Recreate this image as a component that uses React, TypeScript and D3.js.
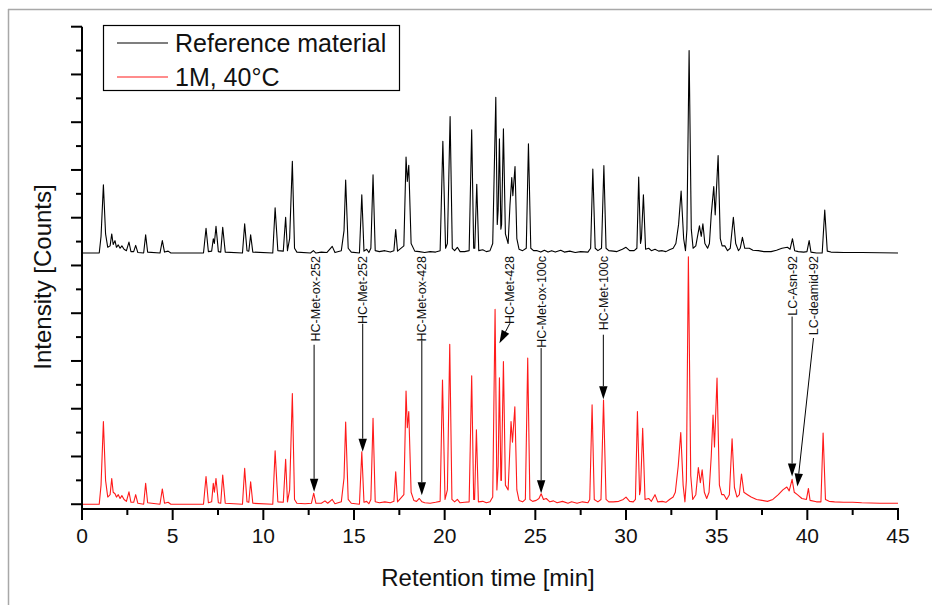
import React from "react";
import * as d3 from "d3";

// ---------- data ----------
const seriesNames = ["Reference material", "1M, 40°C"];
const seriesColors = ["#000000", "#ff1a1a"];

const xMajorTicks = [0, 5, 10, 15, 20, 25, 30, 35, 40, 45];
const xTickLabels = ["0", "5", "10", "15", "20", "25", "30", "35", "40", "45"];
const xMinorTicks = [2.5, 7.5, 12.5, 17.5, 22.5, 27.5, 32.5, 37.5, 42.5];
const yMajorTicks = [0, 1, 2, 3, 4, 5, 6, 7, 8, 9, 10];
const yMinorTicks = [0.5, 1.5, 2.5, 3.5, 4.5, 5.5, 6.5, 7.5, 8.5, 9.5];

// vertical offset of the reference trace (stacked display)
const referenceOffset = 5.26;

// [retention time (min), intensity (a.u.)]
const referenceTrace: [number, number][] = [
  [0, 0], [0.95, 0], [1.05, 0.35], [1.18, 1.43], [1.3, 0.4], [1.42, 0.12], [1.55, 0.15], [1.64, 0.4],
  [1.72, 0.18], [1.82, 0.26], [1.9, 0.12], [2.0, 0.17], [2.1, 0.1], [2.2, 0.15], [2.32, 0.08],
  [2.45, 0.05], [2.59, 0.23], [2.7, 0.03], [2.85, 0.03], [2.96, 0.16], [3.08, 0.01], [3.4, 0],
  [3.51, 0.38], [3.62, 0.02], [4.3, 0], [4.43, 0.26], [4.55, 0.02], [4.75, 0.04], [4.9, 0],
  [6.7, 0], [6.84, 0.52], [6.97, 0.03], [7.15, 0.04], [7.24, 0.3], [7.3, 0.2], [7.39, 0.56],
  [7.52, 0.03], [7.65, 0.02], [7.76, 0.54], [7.9, 0.02], [8.85, 0], [8.97, 0.61], [9.1, 0.05],
  [9.2, 0.04], [9.3, 0.38], [9.42, 0.02], [10.52, 0], [10.65, 0.95], [10.8, 0.05], [11.1, 0.04],
  [11.23, 0.75], [11.33, 0.05], [11.45, 0.3], [11.6, 1.92], [11.72, 0.1], [11.85, 0.02],
  [12.6, 0], [12.76, 0.05], [12.9, 0], [13.2, 0.02], [13.5, 0.01], [13.8, 0.14], [13.95, 0.01],
  [14.3, 0.05], [14.45, 0.47], [14.54, 1.53], [14.68, 0.1], [14.85, 0.02], [15.3, 0],
  [15.43, 1.22], [15.55, 0.04], [15.7, 0.08], [15.82, 0.01], [15.93, 0.1], [16.05, 1.64],
  [16.17, 0.05], [16.4, 0.03], [16.7, 0.05], [17.0, 0.02], [17.2, 0.05], [17.3, 0.49],
  [17.4, 0.04], [17.75, 0.15], [17.87, 2.01], [17.94, 1.5], [18.02, 1.84], [18.15, 0.2],
  [18.35, 0.04], [18.6, 0.03], [18.9, 0.01], [19.2, 0.03], [19.5, 0.02], [19.75, 0.05],
  [19.9, 2.34], [20.05, 0.1], [20.15, 0.2], [20.3, 2.86], [20.42, 0.1], [20.55, 0.05],
  [20.7, 0.12], [20.85, 0.03], [21.1, 0.03], [21.35, 0.05], [21.49, 2.58], [21.6, 0.1],
  [21.66, 0.1], [21.77, 1.44], [21.88, 0.05], [22.1, 0.07], [22.3, 0.03], [22.5, 0.05],
  [22.65, 0.2], [22.82, 3.26], [22.9, 0.6], [22.95, 0.9], [23.02, 2.39], [23.1, 0.5],
  [23.14, 0.6], [23.24, 2.6], [23.35, 0.4], [23.5, 0.2], [23.6, 1.0], [23.7, 1.58],
  [23.76, 1.2], [23.88, 1.81], [23.98, 0.3], [24.1, 0.08], [24.3, 0.05], [24.5, 0.1],
  [24.62, 2.29], [24.75, 0.1], [24.9, 0.05], [25.1, 0.05], [25.3, 0.02], [25.5, 0.06],
  [25.7, 0.02], [25.9, 0.05], [26.1, 0.02], [26.4, 0.06], [26.6, 0.02], [26.9, 0.04],
  [27.2, 0.01], [27.5, 0.03], [27.9, 0.02], [28.05, 0.1], [28.17, 1.76], [28.3, 0.1],
  [28.45, 0.05], [28.65, 0.1], [28.78, 1.83], [28.9, 0.1], [29.05, 0.05], [29.3, 0.04],
  [29.5, 0.03], [29.8, 0.08], [30.0, 0.12], [30.2, 0.05], [30.45, 0.05], [30.6, 0.1],
  [30.7, 1.59], [30.8, 0.2], [30.85, 0.3], [30.96, 1.22], [31.08, 0.08], [31.25, 0.1],
  [31.4, 0.05], [31.6, 0.08], [31.8, 0.04], [32.0, 0.05], [32.2, 0.03], [32.4, 0.07],
  [32.6, 0.1], [32.75, 0.2], [32.9, 0.6], [33.04, 1.3], [33.18, 0.3], [33.28, 0.05],
  [33.36, 0.5], [33.48, 4.24], [33.6, 0.5], [33.7, 0.1], [33.85, 0.15], [34.05, 0.57],
  [34.15, 0.35], [34.24, 0.61], [34.35, 0.2], [34.5, 0.1], [34.6, 0.2], [34.7, 0.8],
  [34.84, 1.39], [34.92, 0.8], [35.08, 2.04], [35.2, 0.3], [35.3, 0.15], [35.45, 0.15],
  [35.6, 0.05], [35.75, 0.1], [35.92, 0.75], [36.05, 0.2], [36.2, 0.05], [36.3, 0.1],
  [36.42, 0.33], [36.55, 0.1], [36.8, 0.1], [37.0, 0.06], [37.3, 0.05], [37.6, 0.03],
  [38.0, 0.03], [38.3, 0.06], [38.6, 0.1], [38.9, 0.12], [39.05, 0.08], [39.18, 0.3],
  [39.3, 0.05], [39.5, 0.03], [39.8, 0.02], [39.98, 0.03], [40.1, 0.26], [40.2, 0.02],
  [40.5, 0], [40.82, 0], [40.96, 0.9], [41.1, 0.04], [41.3, 0.02], [42, 0.01], [43, 0.01], [45, 0],
];

const stressedTrace: [number, number][] = [
  [0, 0], [0.95, 0], [1.05, 0.4], [1.18, 1.73], [1.3, 0.5], [1.42, 0.15], [1.55, 0.2], [1.64, 0.54],
  [1.72, 0.25], [1.82, 0.22], [1.9, 0.15], [2.0, 0.2], [2.1, 0.12], [2.2, 0.18], [2.32, 0.1],
  [2.45, 0.06], [2.59, 0.26], [2.7, 0.04], [2.85, 0.04], [2.96, 0.2], [3.08, 0.02], [3.4, 0],
  [3.51, 0.44], [3.62, 0.03], [4.3, 0], [4.43, 0.32], [4.55, 0.02], [4.75, 0.04], [4.9, 0],
  [6.7, 0], [6.84, 0.58], [6.97, 0.03], [7.15, 0.05], [7.24, 0.44], [7.3, 0.25], [7.39, 0.54],
  [7.52, 0.03], [7.65, 0.02], [7.76, 0.61], [7.9, 0.02], [8.85, 0], [8.97, 0.75], [9.1, 0.05],
  [9.2, 0.04], [9.3, 0.47], [9.42, 0.02], [10.52, 0], [10.65, 1.12], [10.8, 0.05], [11.1, 0.04],
  [11.23, 0.94], [11.33, 0.05], [11.45, 0.3], [11.6, 2.32], [11.72, 0.1], [11.85, 0.02],
  [12.3, 0.01], [12.65, 0.02], [12.78, 0.23], [12.9, 0.02], [13.2, 0.02], [13.4, 0.07],
  [13.55, 0.02], [13.8, 0.1], [13.95, 0.01], [14.3, 0.05], [14.45, 0.55], [14.54, 1.72],
  [14.68, 0.1], [14.85, 0.02], [15.3, 0], [15.43, 1.1], [15.55, 0.04], [15.7, 0.06],
  [15.82, 0.01], [15.93, 0.1], [16.05, 1.8], [16.17, 0.05], [16.4, 0.03], [16.7, 0.05],
  [17.0, 0.03], [17.2, 0.06], [17.3, 0.68], [17.4, 0.05], [17.75, 0.2], [17.87, 2.37],
  [17.94, 1.6], [18.02, 1.94], [18.15, 0.25], [18.3, 0.08], [18.45, 0.06], [18.6, 0.12],
  [18.75, 0.05], [18.9, 0.03], [19.2, 0.02], [19.5, 0.04], [19.75, 0.06], [19.88, 2.6],
  [20.02, 0.1], [20.15, 0.3], [20.28, 3.35], [20.4, 0.1], [20.55, 0.05], [20.7, 0.1],
  [20.85, 0.03], [21.1, 0.04], [21.35, 0.05], [21.49, 2.69], [21.6, 0.1], [21.65, 0.1],
  [21.75, 1.56], [21.86, 0.05], [22.1, 0.06], [22.3, 0.03], [22.5, 0.05], [22.65, 0.15],
  [22.78, 4.08], [22.88, 0.3], [22.95, 0.8], [23.02, 2.65], [23.1, 0.5], [23.13, 0.5],
  [23.24, 2.99], [23.35, 0.4], [23.5, 0.3], [23.6, 1.2], [23.66, 1.73], [23.74, 1.3],
  [23.87, 2.04], [23.98, 0.3], [24.1, 0.08], [24.3, 0.05], [24.45, 0.1], [24.58, 3.06],
  [24.7, 0.1], [24.85, 0.06], [25.05, 0.08], [25.2, 0.12], [25.32, 0.22], [25.45, 0.1],
  [25.6, 0.12], [25.8, 0.05], [26.0, 0.07], [26.2, 0.03], [26.5, 0.06], [26.8, 0.02],
  [27.0, 0.05], [27.3, 0.02], [27.6, 0.05], [27.9, 0.03], [28.0, 0.1], [28.13, 2.08],
  [28.25, 0.1], [28.45, 0.05], [28.62, 0.1], [28.76, 2.18], [28.9, 0.1], [29.05, 0.05],
  [29.3, 0.05], [29.6, 0.06], [29.85, 0.1], [30.0, 0.15], [30.2, 0.06], [30.4, 0.05],
  [30.52, 0.1], [30.63, 1.94], [30.75, 0.2], [30.8, 0.3], [30.92, 1.59], [31.05, 0.1],
  [31.25, 0.12], [31.4, 0.06], [31.6, 0.2], [31.75, 0.05], [32.0, 0.06], [32.2, 0.04],
  [32.4, 0.1], [32.6, 0.15], [32.72, 0.25], [32.88, 0.8], [33.02, 1.5], [33.15, 0.4],
  [33.25, 0.05], [33.33, 0.5], [33.44, 5.18], [33.57, 0.6], [33.68, 0.1], [33.85, 0.2],
  [33.99, 0.77], [34.1, 0.45], [34.2, 0.72], [34.32, 0.25], [34.45, 0.12], [34.58, 0.25],
  [34.7, 1.0], [34.8, 1.87], [34.88, 1.2], [35.02, 2.64], [35.15, 0.4], [35.28, 0.2],
  [35.4, 0.2], [35.55, 0.1], [35.7, 0.2], [35.85, 1.37], [35.98, 0.35], [36.12, 0.15],
  [36.25, 0.2], [36.37, 0.63], [36.5, 0.25], [36.7, 0.2], [36.9, 0.15], [37.2, 0.1],
  [37.5, 0.08], [37.8, 0.06], [38.1, 0.1], [38.4, 0.2], [38.65, 0.3], [38.87, 0.36],
  [39.0, 0.28], [39.16, 0.52], [39.28, 0.25], [39.45, 0.2], [39.7, 0.12], [39.95, 0.1],
  [40.06, 0.33], [40.15, 0.08], [40.5, 0.05], [40.75, 0.05], [40.87, 1.49], [41.0, 0.1],
  [41.2, 0.06], [41.5, 0.05], [42.0, 0.04], [42.5, 0.04], [43, 0.03], [44, 0.02], [45, 0.02],
];

// peak annotations: label position (time), arrow tail (time, value), arrow tip (time, value)
const annotationLabels = [
  "HC-Met-ox-252", "HC-Met-252", "HC-Met-ox-428", "HC-Met-428",
  "HC-Met-ox-100c", "HC-Met-100c", "LC-Asn-92", "LC-deamid-92",
];
const annotationLabelTimes = [12.85, 15.48, 18.74, 23.57, 25.32, 28.75, 39.2, 40.34];
const annotationTailTimes = [12.8, 15.48, 18.74, 23.6, 25.32, 28.75, 39.16, 40.34];
const annotationTailValues = [3.34, 3.78, 3.43, 3.79, 3.27, 3.55, 3.93, 3.48];
const annotationTipTimes = [12.8, 15.48, 18.74, 23.02, 25.32, 28.75, 39.16, 39.45];
const annotationTipValues = [0.26, 1.1, 0.19, 3.37, 0.23, 2.2, 0.58, 0.37];

const xTitle = "Retention time [min]";
const yTitle = "Intensity [Counts]";

// ---------- layout ----------
const W = 932;
const H = 605;
const FONT = "Arial, 'Liberation Sans', Helvetica, sans-serif";

const x = d3.scaleLinear().domain([0, 45]).range([82, 898]);
const y = d3.scaleLinear().domain([-0.1, 10]).range([509, 26.7]);

export default function App() {
  const line = d3
    .line<[number, number]>()
    .x((d) => x(d[0]))
    .y((d) => y(d[1]));

  const refPath = line(referenceTrace.map(([t, v]) => [t, v + referenceOffset] as [number, number])) || "";
  const stressedPath = line(stressedTrace) || "";

  const labelTop = 256;

  return (
    <div style={{ position: "absolute", left: 0, top: 0 }}>
      <svg width={W} height={H} viewBox={`0 0 ${W} ${H}`} style={{ display: "block", background: "#fff" }}>
        <rect x={0} y={0} width={W} height={H} fill="#fff" />
        {/* outer frame */}
        <line x1={8} y1={9.5} x2={W} y2={9.5} stroke="#a8a8a8" strokeWidth={1.5} />
        <line x1={8.5} y1={9} x2={8.5} y2={H} stroke="#a8a8a8" strokeWidth={1.5} />

        {/* traces */}
        <path d={stressedPath} fill="none" stroke={seriesColors[1]} strokeWidth={1.1} strokeLinejoin="round" />
        <path d={refPath} fill="none" stroke={seriesColors[0]} strokeWidth={1.1} strokeLinejoin="round" />

        {/* annotations */}
        {annotationLabels.map((lab, i) => {
          const lx = x(annotationLabelTimes[i]);
          const x0 = x(annotationTailTimes[i]);
          const y0 = y(annotationTailValues[i]);
          const x1 = x(annotationTipTimes[i]);
          const y1 = y(annotationTipValues[i]);
          const dx = x1 - x0;
          const dy = y1 - y0;
          const len = Math.hypot(dx, dy);
          const ux = dx / len;
          const uy = dy / len;
          const hl = 13;
          const hw = 4.2;
          const bx = x1 - ux * hl;
          const by = y1 - uy * hl;
          const pts = [
            [x1, y1],
            [bx - uy * hw, by + ux * hw],
            [bx + uy * hw, by - ux * hw],
          ]
            .map((p) => p.join(","))
            .join(" ");
          return (
            <g key={lab}>
              <text
                transform={`translate(${lx + 4.5},${labelTop}) rotate(-90)`}
                textAnchor="end"
                fontFamily={FONT}
                fontSize={12.5}
                fill="#111"
              >
                {lab}
              </text>
              <line x1={x0} y1={y0} x2={bx} y2={by} stroke="#000" strokeWidth={1} />
              <polygon points={pts} fill="#000" />
            </g>
          );
        })}

        {/* y axis */}
        <line x1={82} y1={y(10)} x2={82} y2={510} stroke="#000" strokeWidth={2} />
        {yMajorTicks.map((v) => (
          <line key={"ym" + v} x1={71} x2={82} y1={y(v)} y2={y(v)} stroke="#000" strokeWidth={2} />
        ))}
        {yMinorTicks.map((v) => (
          <line key={"yn" + v} x1={76} x2={82} y1={y(v)} y2={y(v)} stroke="#000" strokeWidth={2} />
        ))}

        {/* x axis */}
        <line x1={81} y1={509} x2={x(45) + 1} y2={509} stroke="#000" strokeWidth={2} />
        {xMajorTicks.map((v, i) => (
          <g key={"xm" + v}>
            <line x1={x(v)} x2={x(v)} y1={509} y2={520} stroke="#000" strokeWidth={2} />
            <text x={x(v)} y={542.5} textAnchor="middle" fontFamily={FONT} fontSize={21} fill="#111">
              {xTickLabels[i]}
            </text>
          </g>
        ))}
        {xMinorTicks.map((v) => (
          <line key={"xn" + v} x1={x(v)} x2={x(v)} y1={509} y2={515} stroke="#000" strokeWidth={2} />
        ))}

        {/* axis titles */}
        <text x={488} y={586} textAnchor="middle" fontFamily={FONT} fontSize={24} fill="#111">
          {xTitle}
        </text>
        <text
          transform={`translate(51,277) rotate(-90)`}
          textAnchor="middle"
          fontFamily={FONT}
          fontSize={24}
          fill="#111"
        >
          {yTitle}
        </text>

        {/* legend */}
        <rect x={103.5} y={25.5} width={296} height={65} fill="#fff" stroke="#000" strokeWidth={1.2} />
        {seriesNames.map((name, i) => (
          <g key={name}>
            <line x1={117} x2={168} y1={43 + i * 34} y2={43 + i * 34} stroke={seriesColors[i]} strokeWidth={1.1} />
            <text x={175} y={52 + i * 34} fontFamily={FONT} fontSize={25} fill="#111">
              {name}
            </text>
          </g>
        ))}
      </svg>
    </div>
  );
}
